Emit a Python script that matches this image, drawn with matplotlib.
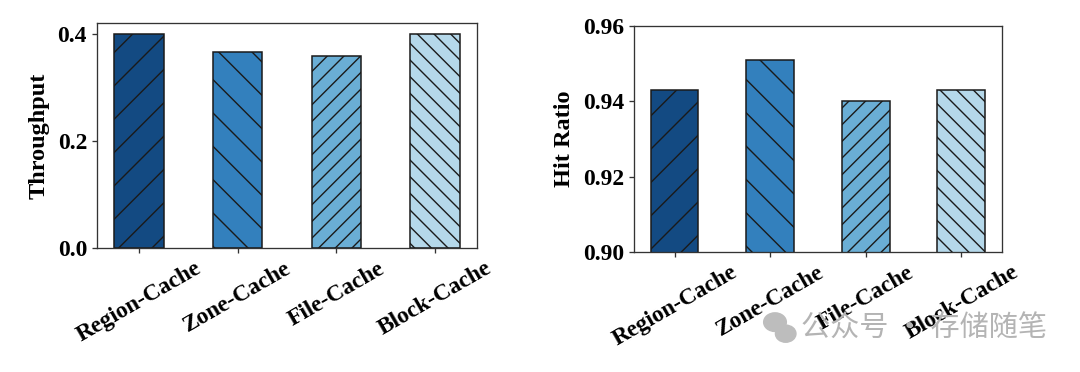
import matplotlib
matplotlib.use("Agg")
import matplotlib.pyplot as plt
from matplotlib.patches import Ellipse

categories = ["Region-Cache", "Zone-Cache", "File-Cache", "Block-Cache"]
throughput = [0.399, 0.365, 0.358, 0.400]
hit_ratio = [0.943, 0.951, 0.940, 0.943]
throughput_ticks = [0.0, 0.2, 0.4]
hit_ticks = [0.90, 0.92, 0.94, 0.96]
colors = ["#134a82", "#3380bd", "#6aaed5", "#b5d8ea"]
hatches = ["/", "\\", "//", "\\\\"]

plt.rcParams["font.family"] = ["Liberation Serif", "DejaVu Serif"]
plt.rcParams["font.weight"] = "bold"
plt.rcParams["hatch.linewidth"] = 1.0
plt.rcParams["hatch.color"] = "black"

DPI = 100
fig = plt.figure(figsize=(1080 / DPI, 372 / DPI), dpi=DPI)
ax1 = fig.add_axes([0.0898, 0.3333, 0.3519, 0.6049])
ax2 = fig.add_axes([0.5870, 0.3226, 0.3408, 0.6074])

x = list(range(len(categories)))

def draw(ax, vals, ylabel, ticks, ylim, fmt):
    bars = ax.bar(x, vals, width=0.5, color=colors, edgecolor="#1a1a1a", linewidth=1.1)
    for b, h in zip(bars, hatches):
        b.set_hatch(h)
    ax.set_xticks(x)
    ax.set_xticklabels(categories, rotation=30, ha="center", fontsize=16.8, fontweight="bold")
    ax.set_yticks(ticks)
    ax.set_yticklabels([fmt.format(t) for t in ticks], fontsize=17, fontweight="bold")
    if ylim is not None:
        ax.set_ylim(*ylim)
    ax.set_ylabel(ylabel, fontsize=17.5, fontweight="bold", labelpad=6)
    for s in ax.spines.values():
        s.set_color("#333333")
        s.set_linewidth(0.95)
    ax.tick_params(axis="both", length=3.6, width=0.95, color="#333333", pad=3.5)

draw(ax1, throughput, "Throughput", throughput_ticks, (0, 0.42), "{:.1f}")
draw(ax2, hit_ratio, "Hit Ratio", hit_ticks, (0.90, 0.96), "{:.2f}")

# watermark
fig.text(0.742, 0.116, "公众号 · 存储随笔", fontsize=21, color="#b4b4b4",
         family=["Noto Sans CJK SC", "DejaVu Sans"], fontweight="normal",
         ha="left", va="center")
fig.patches.append(Ellipse((0.7176, 0.134), 0.021, 0.050, transform=fig.transFigure,
                           color="#bdbdbd", zorder=0))
fig.patches.append(Ellipse((0.7275, 0.103), 0.019, 0.046, transform=fig.transFigure,
                           color="#bdbdbd", zorder=0))

fig.savefig("out.png", dpi=DPI)
